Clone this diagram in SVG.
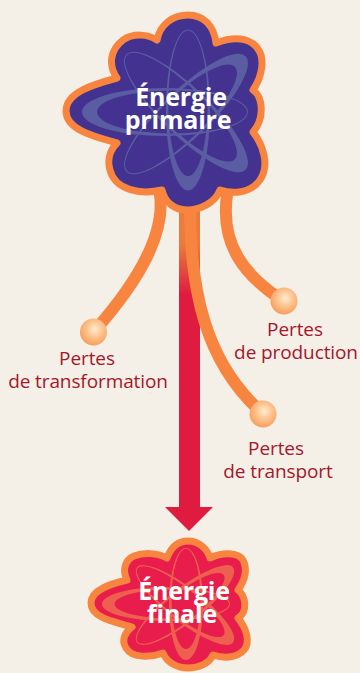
<svg xmlns="http://www.w3.org/2000/svg" width="360" height="673" viewBox="0 0 360 673">
<style>
.bg{fill:#f4f0e8}
.line{fill:none;stroke:#f8853f;stroke-width:12;stroke-linecap:round}
.outline{stroke:#f8853f;stroke-width:7;stroke-linejoin:round}
.t{font-family:"Open Sans","Liberation Sans",sans-serif}
.w{fill:#fff;font-weight:700;font-size:25px;text-anchor:middle;letter-spacing:-.2px}
.l{fill:#a5172a;font-size:19px;text-anchor:middle;letter-spacing:-.1px}
.ring-a{fill:#5b5da3;fill-rule:evenodd}
.ring-b{fill:#ee5f50;fill-rule:evenodd}
</style>
<defs>
<linearGradient id="stem" x1="0" y1="210" x2="0" y2="295" gradientUnits="userSpaceOnUse">
<stop offset="0" stop-color="#e87c3e"/><stop offset="0.4" stop-color="#e87c3e"/><stop offset="1" stop-color="#df1b40"/>
</linearGradient>
<radialGradient id="ball" cx="0.55" cy="0.4" r="0.6">
<stop offset="0" stop-color="#ffeccf"/><stop offset="0.5" stop-color="#fdc38f"/><stop offset="1" stop-color="#f99e5c"/>
</radialGradient>
<path id="ringTop" d="M-83 0a83 24 0 1 0 166 0a83 24 0 1 0 -166 0zM-68 0a75 21.500 0 1 0 150 0a75 21.500 0 1 0 -150 0z"/>
<path id="ringBot" d="M-61 0a61 17 0 1 0 122 0a61 17 0 1 0 -122 0zM-49 0a54.500 14.500 0 1 0 109 0a54.500 14.500 0 1 0 -109 0z"/>
</defs>
<rect class="bg" width="360" height="673"/>
<g id="connectors">
<path fill="url(#stem)" d="M179 205H200V507H213L189 531L165 507H179Z"/>
<path class="line" d="M160 195C166 240 130 290 98 327"/>
<path class="line" d="M227 195C220 245 245 275 279 298"/>
<path class="line" d="M190 205C190 290 205 360 259 410"/>
</g>
<g id="energie-primaire">
<path class="outline" fill="#43328f" d="M157 40C160 25 172 15 188 15C204 15 214 26 216 43C237 35 255 38 261 55C264 66 260 80 253 90C263 97 265 118 253 132C263 145 270 165 260 180C250 194 232 194 220 190C215 203 200 210 187 210C175 210 165 203 162 190C140 195 115 190 110 170C107 160 110 150 117 143C95 137 66 130 66 111C66 92 95 84 117 78C108 65 110 50 123 40C133 33 148 34 157 40Z"/>
<use href="#ringTop" class="ring-a" transform="translate(165 112)"/>
<use href="#ringTop" class="ring-a" transform="translate(188 110) rotate(-90) scale(.97 .92)"/>
<use href="#ringTop" class="ring-a" transform="translate(186 114) rotate(136)"/>
<use href="#ringTop" class="ring-a" transform="translate(186 112) rotate(224)"/>
<text class="t w" x="181" y="106">Énergie</text>
<text class="t w" x="178" y="129">primaire</text>
</g>
<g id="perte-transformation">
<circle cx="93.500" cy="332" r="13.500" fill="url(#ball)"/>
<text class="t l" x="87" y="365">Pertes</text>
<text class="t l" x="88" y="388">de transformation</text>
</g>
<g id="perte-production">
<circle cx="284" cy="301" r="13.500" fill="url(#ball)"/>
<text class="t l" x="295" y="336">Pertes</text>
<text class="t l" x="296" y="359">de production</text>
</g>
<g id="perte-transport">
<circle cx="263" cy="414" r="13.500" fill="url(#ball)"/>
<text class="t l" x="276" y="455">Pertes</text>
<text class="t l" x="278" y="478">de transport</text>
</g>
<g id="energie-finale">
<path class="outline" fill="#e81d4b" d="M167 558C171 547 178 541 188 541C198 541 207 548 210 558C222 552 238 552 243 560C248 570 245 580 238 590C246 596 248 612 238 618C246 628 251 642 244 650C236 659 222 658 213 655C209 664 198 668 188 668C178 668 167 663 163 653C150 658 132 658 126 648C121 640 125 632 132 627C115 622 91 618 91 603C91 590 110 584 127 580C122 570 125 560 134 556C144 552 158 553 167 558Z"/>
<use href="#ringBot" class="ring-b" transform="translate(166 604) scale(1.05 1)"/>
<use href="#ringBot" class="ring-b" transform="translate(186 604) rotate(-90) scale(.92 1)"/>
<use href="#ringBot" class="ring-b" transform="translate(185 605) rotate(142)"/>
<use href="#ringBot" class="ring-b" transform="translate(185 605) rotate(218)"/>
<text class="t w" x="184" y="600">Énergie</text>
<text class="t w" x="182" y="623">finale</text>
</g>
</svg>
